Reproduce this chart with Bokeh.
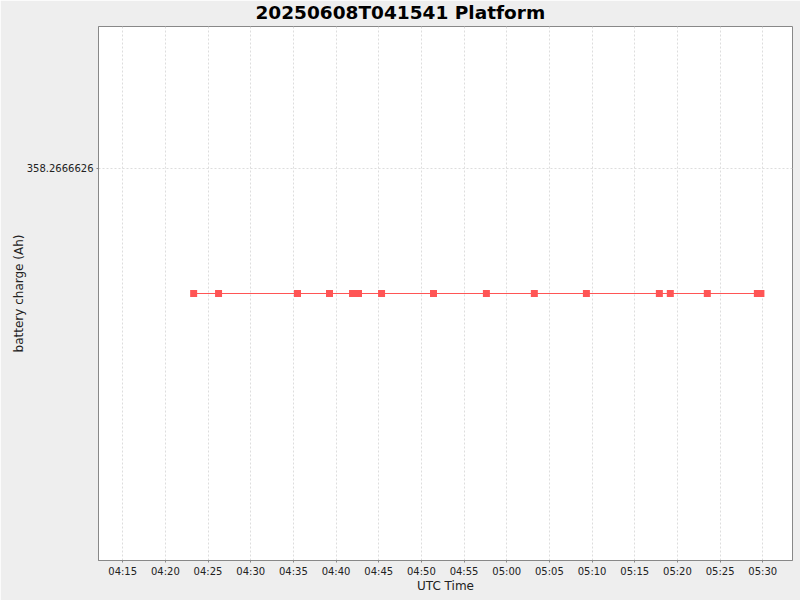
import pandas as pd
from bokeh.plotting import figure
from bokeh.models import Range1d, FixedTicker, DatetimeTickFormatter, PrintfTickFormatter
from bokeh.embed import file_html
from bokeh.resources import INLINE

TITLE = "20250608T041541 Platform"
X_LABEL = "UTC Time"
Y_LABEL = "battery charge (Ah)"

times = ["04:23:19", "04:26:14", "04:35:29", "04:39:14", "04:41:56", "04:42:38",
         "04:45:20", "04:51:25", "04:57:37", "05:03:14", "05:09:20", "05:17:53",
         "05:19:10", "05:23:30", "05:29:22", "05:29:47"]
charge = [358.26666255] * len(times)

x_tick_labels = ["04:15", "04:20", "04:25", "04:30", "04:35", "04:40", "04:45", "04:50",
                 "04:55", "05:00", "05:05", "05:10", "05:15", "05:20", "05:25", "05:30"]
y_ticks = [358.2666626]

DATE = "2025-06-08 "
x = pd.to_datetime([DATE + t for t in times])
x_ticks = [pd.Timestamp(DATE + t + ":00").value / 1e6 for t in x_tick_labels]
x_start = pd.Timestamp(DATE + "04:12:10")
x_end = pd.Timestamp(DATE + "05:33:29")

mid = sum(charge) / len(charge)
half = 1.068e-7

p = figure(width=800, height=600, output_backend="svg", toolbar_location=None,
           x_axis_type="datetime",
           x_range=Range1d(x_start, x_end),
           y_range=Range1d(mid - half, mid + half),
           min_border_left=98, min_border_right=8, min_border_top=26, min_border_bottom=40)

p.title.text = TITLE
p.title.align = "left"
p.title.offset = 157
p.title.vertical_align = "top"
p.title.text_font = "DejaVu Sans"
p.title.text_font_size = "18.5px"
p.title.text_font_style = "bold"
p.title.text_color = "#000000"
p.title.standoff = 3

p.border_fill_color = "#EEEEEE"
p.background_fill_color = "#FFFFFF"
p.outline_line_color = "#888888"
p.outline_line_width = 1

for ax in (p.xaxis[0], p.yaxis[0]):
    ax.axis_line_color = "#888888"
    ax.major_tick_line_color = "#888888"
    ax.major_tick_out = 2
    ax.major_tick_in = 0
    ax.minor_tick_line_color = None
    ax.major_label_text_font = "DejaVu Sans"
    ax.major_label_text_font_size = "10px"
    ax.major_label_text_color = "#222222"
    ax.axis_label_text_font = "DejaVu Sans"
    ax.axis_label_text_font_size = "12px"
    ax.axis_label_text_font_style = "normal"
    ax.axis_label_text_color = "#222222"

p.xaxis.axis_label = X_LABEL
p.yaxis.axis_label = Y_LABEL
p.xaxis.ticker = FixedTicker(ticks=x_ticks)
p.xaxis.formatter = DatetimeTickFormatter(minutes="%H:%M", hours="%H:%M", minsec="%H:%M",
                                          seconds="%H:%M", days="%H:%M")
p.yaxis.ticker = FixedTicker(ticks=y_ticks)
p.yaxis.formatter = PrintfTickFormatter(format="%.7f")
p.xaxis.major_label_standoff = 3
p.xaxis.axis_label_standoff = -1
p.yaxis.major_label_standoff = 3
p.yaxis.axis_label_standoff = -2

for g in (p.xgrid[0], p.ygrid[0]):
    g.grid_line_color = "#DDDDDD"
    g.grid_line_dash = "2 2"
    g.grid_line_width = 1
p.xgrid.ticker = FixedTicker(ticks=x_ticks)
p.ygrid.ticker = FixedTicker(ticks=y_ticks)

p.line(x, charge, line_color="#FF5555", line_width=1)
p.scatter(x, charge, marker="square", size=7, fill_color="#FF5555", line_color=None)

open("out.html", "w").write(file_html(p, INLINE))
